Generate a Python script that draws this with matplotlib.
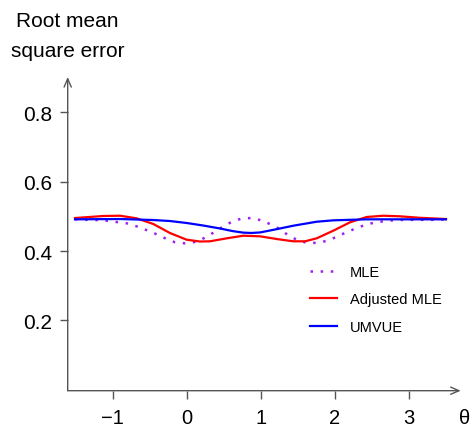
import matplotlib
matplotlib.use('Agg')
import matplotlib.pyplot as plt

# RMSE curves of the three estimators against theta
theta_mle = [-1.509, -1.365, -1.226, -1.086, -0.946, -0.811, -0.676, -0.546, -0.415,
             -0.289, -0.158, -0.023, 0.112, 0.238, 0.359, 0.481, 0.603, 0.734, 0.873,
             1.008, 1.135, 1.261, 1.373, 1.495, 1.630, 1.768, 1.905, 2.027, 2.157,
             2.288, 2.419, 2.554, 2.693, 2.832, 2.973, 3.108, 3.251, 3.392, 3.504]
rmse_mle = [0.4914, 0.4900, 0.4894, 0.4874, 0.4836, 0.4800, 0.4712, 0.4606, 0.4490,
            0.4366, 0.4251, 0.4222, 0.4260, 0.4375, 0.4528, 0.4692, 0.4836, 0.4932, 0.4952,
            0.4885, 0.4770, 0.4626, 0.4453, 0.4317, 0.4231, 0.4237, 0.4297, 0.4412, 0.4539,
            0.4655, 0.4759, 0.4828, 0.4865, 0.4894, 0.4900, 0.4900, 0.4900, 0.4900, 0.4910]

theta_adj = [-1.509, -1.127, -0.901, -0.676, -0.451, -0.226, 0.0, 0.180, 0.315, 0.541,
             0.765, 0.991, 1.216, 1.441, 1.599, 1.757, 1.981, 2.207, 2.432, 2.657,
             2.882, 3.153, 3.504]
rmse_adj = [0.4952, 0.5010, 0.5018, 0.4943, 0.4779, 0.4519, 0.4326, 0.4274, 0.4280, 0.4366,
            0.4441, 0.4424, 0.4346, 0.4280, 0.4280, 0.4366, 0.4586, 0.4828, 0.4981, 0.5018,
            0.5001, 0.4958, 0.4923]

theta_umvue = [-1.509, -0.901, -0.451, -0.226, 0.0, 0.224, 0.450, 0.620, 0.765, 0.870,
               0.991, 1.216, 1.441, 1.757, 1.981, 2.432, 3.504]
rmse_umvue = [0.4914, 0.4923, 0.4894, 0.4865, 0.4808, 0.4735, 0.4650, 0.4575, 0.4530, 0.4520,
              0.4535, 0.4630, 0.4730, 0.4845, 0.4885, 0.4914, 0.4914]

xticks = [-1, 0, 1, 2, 3]
xticklabels = ['\u22121', '0', '1', '2', '3']
yticks = [0.2, 0.4, 0.6, 0.8]
yticklabels = ['0.2', '0.4', '0.6', '0.8']

plt.rcParams['font.family'] = ['Liberation Sans', 'DejaVu Sans']

W, H = 474, 427
fig = plt.figure(figsize=(W / 100, H / 100), dpi=100)
ax = fig.add_axes([67.7 / W, 35.3 / H, 393 / W, 313.7 / H])
ax.set_xlim(-1.608, 3.703)
ax.set_ylim(-0.003, 0.902)

ax.plot(theta_mle, rmse_mle, color='#A020F0', lw=1.8, linestyle=(0, (1, 3.06)),
        dash_capstyle='butt', label='MLE')
ax.plot(theta_adj, rmse_adj, color='#FF0000', lw=1.6, label='Adjusted MLE')
ax.plot(theta_umvue, rmse_umvue, color='#0000FF', lw=1.6, label='UMVUE')

# axes drawn as arrows, no box
for s in ax.spines.values():
    s.set_visible(False)
axis_col = '#555555'
arrow = dict(arrowstyle='->,head_length=0.3,head_width=0.13', color=axis_col, lw=1.0,
             shrinkA=0, shrinkB=0, mutation_scale=20)
ax.annotate('', xy=(1, 0), xytext=(0, 0), xycoords='axes fraction', arrowprops=arrow)
ax.annotate('', xy=(0, 1), xytext=(0, 0), xycoords='axes fraction', arrowprops=arrow)

ax.set_xticks(xticks, xticklabels)
ax.set_yticks(yticks, yticklabels)
ax.tick_params(axis='both', length=6, width=1.0, color=axis_col, labelsize=15)
ax.tick_params(axis='x', pad=6.5, labelsize=14.5)
ax.tick_params(axis='y', pad=5)

fig.text(464.7 / W, 1 - 419 / H, '\u03b8', fontsize=14.5, ha='center', va='center')
fig.text(67.7 / W, 1 - 26.7 / H, 'Root mean', fontsize=15, ha='center', va='baseline')
fig.text(67.7 / W, 1 - 56.7 / H, 'square error', fontsize=15, ha='center', va='baseline')

ax.legend(frameon=False, loc='center left', bbox_to_anchor=(310 / W, 1 - 300.5 / H),
          bbox_transform=fig.transFigure, fontsize=10.5, handlelength=1.85,
          handletextpad=0.87, labelspacing=0.91, borderpad=0, borderaxespad=0)

fig.savefig('out.png', dpi=100)
